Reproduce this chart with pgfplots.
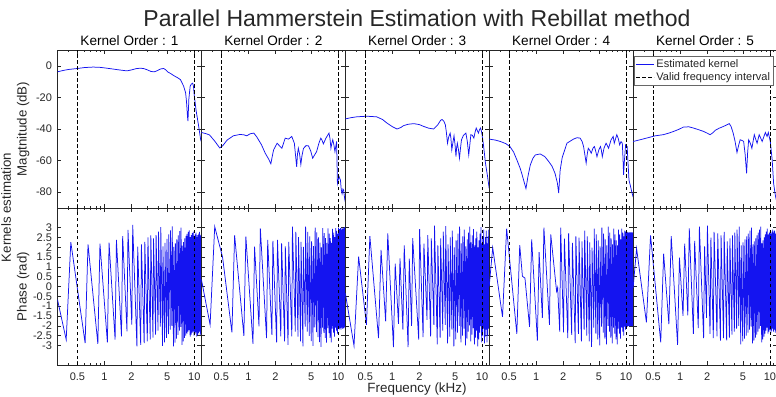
\documentclass[border=0pt]{standalone}
\usepackage{pgfplots}
\pgfplotsset{compat=1.18}
\usepackage{pgfplotstable}
\usepackage{fontspec}
\setmainfont{Liberation Sans}

\definecolor{axisgray}{gray}{0.15}
\definecolor{kernblue}{RGB}{20,20,240}

% ---------- magnitude of the estimated kernels (kHz, dB) ----------
\pgfplotstableread[row sep=\\]{
f m\\
0.30 -3.8\\ 0.35 -2.9\\ 0.40 -2.3\\ 0.50 -1.7\\ 0.60 -1.1\\ 0.75 -0.8\\ 0.90 -1.0\\
1.06 -1.5\\ 1.30 -2.2\\ 1.55 -2.8\\ 1.78 -3.2\\ 2.00 -2.6\\ 2.25 -1.8\\ 2.51 -1.5\\
2.75 -1.8\\ 2.98 -2.5\\ 3.30 -3.6\\ 3.59 -3.8\\ 3.90 -3.0\\ 4.20 -2.0\\ 4.56 -1.7\\
4.80 -2.5\\ 5.10 -4.0\\ 5.50 -5.0\\ 5.90 -6.2\\ 6.50 -7.5\\ 7.00 -8.7\\ 7.60 -12.8\\
8.00 -17\\ 8.20 -23\\ 8.40 -32\\ 8.50 -35\\ 8.60 -28\\ 8.70 -21\\ 9.00 -12.8\\
9.30 -11.5\\ 9.60 -11.0\\ 9.80 -13\\ 10.0 -19\\ 10.5 -28.7\\ 11.1 -37\\ 11.8 -47\\ 12.0 -48\\
}\magA
\pgfplotstableread[row sep=\\]{
f m\\
0.30 -42.2\\ 0.34 -43.0\\ 0.37 -43.8\\ 0.42 -47.5\\ 0.48 -52.0\\ 0.52 -50.5\\ 0.58 -47.0\\
0.68 -44.3\\ 0.80 -43.5\\ 0.88 -43.6\\ 0.96 -44.3\\ 1.05 -43.0\\ 1.15 -42.6\\ 1.24 -45.0\\
1.40 -50.0\\ 1.54 -55.3\\ 1.68 -59.0\\ 1.78 -62.0\\ 1.85 -57.0\\ 1.91 -53.2\\ 2.09 -49.0\\
2.25 -51.0\\ 2.36 -52.2\\ 2.57 -45.8\\ 2.80 -46.4\\ 3.04 -44.7\\ 3.25 -49.0\\ 3.45 -64.0\\
3.52 -56.0\\ 3.60 -52.2\\ 3.72 -56.0\\ 3.84 -62.5\\ 3.95 -57.0\\ 4.11 -52.2\\ 4.40 -50.5\\
4.67 -50.7\\ 4.95 -54.0\\ 5.20 -58.5\\ 5.45 -56.5\\ 5.75 -54.3\\ 6.10 -49.0\\ 6.40 -45.8\\
6.60 -47.0\\ 6.84 -49.4\\ 7.30 -45.8\\ 7.90 -42.6\\ 8.10 -46.0\\ 8.30 -52.2\\ 8.50 -49.0\\
8.70 -46.8\\ 8.95 -50.0\\ 9.20 -54.3\\ 9.40 -51.0\\ 9.60 -47.9\\ 9.70 -60.0\\ 9.80 -74.5\\
10.2 -70.0\\ 10.6 -72.4\\ 10.8 -78.0\\ 11.05 -81.0\\ 11.3 -78.0\\ 11.5 -78.8\\ 11.8 -84.0\\ 12.0 -86.3\\
}\magB
\pgfplotstableread[row sep=\\]{
f m\\
0.30 -33.6\\ 0.35 -32.8\\ 0.40 -32.3\\ 0.52 -31.9\\ 0.67 -32.3\\ 0.78 -34.0\\ 0.87 -36.2\\
1.00 -38.5\\ 1.13 -40.0\\ 1.25 -39.0\\ 1.33 -37.9\\ 1.50 -37.0\\ 1.74 -36.6\\ 2.00 -37.2\\
2.22 -38.3\\ 2.55 -39.5\\ 2.89 -40.0\\ 3.20 -37.5\\ 3.45 -34.5\\ 3.58 -34.0\\ 3.75 -35.0\\
3.90 -37.4\\ 4.00 -42\\ 4.12 -49\\ 4.25 -45\\ 4.41 -42.6\\ 4.50 -46\\ 4.60 -53.2\\ 4.75 -48\\
4.87 -44.3\\ 5.00 -50\\ 5.12 -57.5\\ 5.20 -52\\ 5.30 -49\\ 5.45 -53\\ 5.60 -58.5\\ 5.75 -52\\
5.90 -46.8\\ 6.20 -44\\ 6.60 -42.6\\ 6.85 -48\\ 7.10 -56.4\\ 7.30 -50\\ 7.50 -43.6\\ 7.80 -44\\
8.10 -45.8\\ 8.35 -42\\ 8.60 -39.4\\ 8.85 -41\\ 9.10 -42.6\\ 9.35 -40.5\\ 9.60 -39.4\\
9.80 -41\\ 10.0 -43.6\\ 10.4 -51\\ 10.9 -61.6\\ 11.5 -70\\ 12.0 -77.7\\
}\magC
\pgfplotstableread[row sep=\\]{
f m\\
0.30 -46.4\\ 0.35 -47.0\\ 0.40 -47.9\\ 0.46 -49.3\\ 0.51 -51.1\\ 0.56 -54.5\\ 0.61 -59.6\\
0.66 -64.5\\ 0.69 -68\\ 0.73 -73\\ 0.77 -77.7\\ 0.81 -70\\ 0.86 -62.8\\ 0.92 -58.5\\
0.98 -56.4\\ 1.11 -55.8\\ 1.25 -57.5\\ 1.38 -60.6\\ 1.50 -63.5\\ 1.62 -68\\ 1.72 -74\\
1.78 -80.5\\ 1.85 -66\\ 1.95 -58\\ 2.20 -49\\ 2.60 -46.4\\ 2.85 -45.5\\ 3.09 -45.8\\
3.25 -48\\ 3.37 -51.1\\ 3.50 -57\\ 3.60 -61.6\\ 3.70 -56\\ 3.80 -52.2\\ 3.95 -53.5\\
4.10 -55.3\\ 4.30 -52\\ 4.45 -51.1\\ 4.60 -54\\ 4.75 -57.5\\ 5.00 -53\\ 5.20 -51.1\\
5.30 -53\\ 5.45 -57.5\\ 5.70 -52\\ 6.00 -49\\ 6.20 -50.5\\ 6.40 -52.2\\ 6.80 -47\\
7.20 -44.7\\ 7.40 -49\\ 7.90 -43.6\\ 8.20 -46\\ 8.50 -50\\ 8.80 -48\\ 9.10 -49\\
9.25 -58\\ 9.40 -69\\ 9.60 -60\\ 9.90 -50\\ 10.3 -51.1\\ 10.5 -60\\ 10.8 -72.4\\
11.2 -76\\ 11.6 -79.9\\ 12.0 -83\\
}\magD
\pgfplotstableread[row sep=\\]{
f m\\
0.30 -47.9\\ 0.36 -46.8\\ 0.42 -45.8\\ 0.53 -44.3\\ 0.65 -43.6\\ 0.75 -42.6\\ 0.85 -41.5\\
0.97 -40.2\\ 1.09 -38.8\\ 1.25 -38.6\\ 1.41 -39.4\\ 1.60 -40.4\\ 1.82 -41.5\\ 2.00 -42.6\\
2.16 -43.6\\ 2.30 -42.5\\ 2.47 -40.8\\ 2.70 -39.6\\ 2.92 -38.8\\ 3.20 -37.8\\ 3.53 -36.6\\
3.70 -38.5\\ 3.90 -42.6\\ 4.10 -48\\ 4.30 -54.9\\ 4.50 -50\\ 4.67 -46.8\\ 5.00 -47.5\\
5.10 -47.9\\ 5.30 -56\\ 5.50 -68\\ 5.65 -55\\ 5.80 -46.8\\ 6.05 -49\\ 6.30 -52.2\\
6.70 -43.6\\ 7.00 -47\\ 7.20 -49\\ 7.60 -43.6\\ 8.20 -47.9\\ 8.90 -42.2\\ 9.30 -44.7\\
9.60 -42.2\\ 10.1 -47.9\\ 10.6 -59.6\\ 11.0 -74.5\\ 11.5 -82\\ 12.0 -87\\
}\magE

% ---------- wrapped phase of the estimated kernels (kHz, rad) ----------
\pgfplotstableread[row sep=\\]{
f p\\
0.300 -0.67\\ 0.375 -2.71\\ 0.422 2.26\\ 0.609 -2.88\\ 0.656 2.15\\ 0.844 -2.92\\ 0.891 2.18\\
1.078 -2.85\\ 1.125 2.23\\ 1.313 -2.71\\ 1.359 2.37\\ 1.547 -2.54\\ 1.594 2.57\\ 1.781 -2.28\\
1.828 2.88\\ 2.016 -1.94\\ 2.063 3.14\\ 2.297 -3.05\\ 2.344 2.03\\ 2.531 -2.97\\ 2.578 2.15\\
2.766 -2.88\\ 2.813 2.28\\ 3.000 -2.80\\ 3.047 2.50\\ 3.234 -2.70\\ 3.281 2.60\\
3.470 -2.60\\ 3.517 2.45\\ 3.710 -2.45\\ 3.757 2.62\\ 3.950 -2.25\\ 3.997 2.80\\
4.190 -2.05\\ 4.237 3.02\\ 4.430 -3.02\\ 4.477 2.05\\ 4.670 -2.85\\ 4.717 2.22\\
4.910 -2.62\\ 4.957 2.43\\ 5.150 -2.42\\ 5.197 2.65\\ 5.390 -2.20\\ 5.437 2.86\\
5.630 -2.00\\ 5.677 3.06\\ 5.870 -3.05\\ 5.917 2.02\\ 6.110 -2.86\\ 6.157 2.20\\
6.350 -2.66\\ 6.397 2.40\\ 6.590 -2.46\\ 6.637 2.60\\ 6.830 -2.25\\ 6.877 2.82\\
7.070 -2.06\\ 7.117 3.00\\ 7.310 -2.98\\ 7.357 2.08\\ 7.550 -2.80\\ 7.597 2.26\\
7.790 -2.62\\ 7.837 2.45\\ 8.030 -2.50\\ 8.077 2.58\\ 8.270 -2.40\\ 8.317 2.68\\
8.510 -2.30\\ 8.557 2.78\\ 8.750 -2.22\\ 8.797 2.86\\ 8.990 -2.55\\ 9.037 2.52\\
9.230 -2.45\\ 9.277 2.62\\ 9.470 -2.35\\ 9.517 2.72\\ 9.710 -2.28\\ 9.757 2.80\\
9.950 -2.50\\ 9.997 2.58\\ 10.190 -2.42\\ 10.237 2.66\\ 10.430 -2.34\\ 10.477 2.74\\
10.670 -2.55\\ 10.717 2.52\\ 10.910 -2.46\\ 10.957 2.62\\ 11.150 -2.38\\ 11.197 2.70\\
11.390 -2.30\\ 11.437 2.78\\ 11.630 -2.48\\ 11.677 2.60\\ 11.870 -2.40\\ 11.917 2.68\\
12.000 0.50\\
}\phA
\pgfplotstableread[row sep=\\]{
f p\\
0.300 0.36\\ 0.375 -1.95\\ 0.422 3.05\\ 0.469 2.23\\ 0.516 1.50\\ 0.656 -2.34\\ 0.703 2.61\\
0.891 -2.51\\ 0.938 2.54\\ 1.125 -2.92\\ 1.172 2.03\\ 1.313 -2.03\\ 1.359 2.96\\ 1.594 -2.63\\
1.641 2.37\\ 1.828 -2.46\\ 1.875 2.32\\ 2.063 -2.85\\ 2.109 2.37\\ 2.297 -2.54\\ 2.344 2.20\\
2.531 -2.80\\ 2.578 2.05\\ 2.766 -2.97\\ 2.813 2.27\\ 3.047 -2.54\\ 3.094 3.05\\
3.330 -2.30\\ 3.377 2.78\\ 3.570 -2.55\\ 3.617 2.52\\ 3.810 -2.80\\ 3.857 2.28\\
4.050 -3.05\\ 4.097 2.02\\ 4.290 -2.05\\ 4.337 3.05\\ 4.530 -2.30\\ 4.577 2.78\\
4.770 -2.52\\ 4.817 2.55\\ 5.010 -2.78\\ 5.057 2.30\\ 5.250 -3.02\\ 5.297 2.06\\
5.490 -2.08\\ 5.537 3.00\\ 5.730 -2.32\\ 5.777 2.76\\ 5.970 -2.58\\ 6.017 2.50\\
6.210 -2.84\\ 6.257 2.24\\ 6.450 -3.08\\ 6.497 2.00\\ 6.690 -2.10\\ 6.737 2.98\\
6.930 -2.36\\ 6.977 2.72\\ 7.170 -2.62\\ 7.217 2.46\\ 7.410 -2.86\\ 7.457 2.22\\
7.650 -2.12\\ 7.697 2.96\\ 7.890 -2.38\\ 7.937 2.70\\ 8.130 -2.62\\ 8.177 2.46\\
8.370 -2.85\\ 8.417 2.22\\ 8.610 -2.15\\ 8.657 2.94\\ 8.850 -2.35\\ 8.897 2.74\\
9.090 -2.55\\ 9.137 2.52\\ 9.330 -2.10\\ 9.377 2.98\\ 9.570 -2.25\\ 9.617 2.84\\
9.810 -2.40\\ 9.857 2.68\\ 10.050 -2.10\\ 10.097 3.00\\ 10.290 -2.18\\ 10.337 2.92\\
10.530 -2.12\\ 10.577 2.98\\ 10.770 -2.20\\ 10.817 2.90\\ 11.010 -2.10\\ 11.057 3.00\\
11.250 -2.16\\ 11.297 2.94\\ 11.490 -2.12\\ 11.537 2.98\\ 11.730 -2.08\\ 11.777 3.02\\
11.970 -2.14\\
}\phB
\pgfplotstableread[row sep=\\]{
f p\\
0.300 -0.33\\ 0.375 -3.02\\ 0.422 1.52\\ 0.516 -1.95\\ 0.563 2.57\\ 0.703 -2.63\\ 0.750 1.86\\
0.844 -1.78\\ 0.891 2.71\\ 1.031 -3.09\\ 1.078 1.17\\ 1.172 -1.90\\ 1.219 1.43\\ 1.313 -2.20\\
1.359 2.10\\ 1.500 -3.09\\ 1.547 1.42\\ 1.641 -2.00\\ 1.688 2.46\\ 1.969 -2.70\\ 2.016 2.92\\
2.203 -2.58\\ 2.250 2.18\\ 2.438 -1.70\\ 2.484 2.62\\ 2.672 -2.54\\ 2.719 2.45\\ 2.906 -1.95\\
2.953 3.10\\
3.170 -2.95\\ 3.217 2.10\\ 3.410 -2.60\\ 3.457 2.45\\ 3.650 -2.25\\ 3.697 2.80\\
3.890 -1.95\\ 3.937 3.08\\ 4.130 -2.90\\ 4.177 2.15\\ 4.370 -2.55\\ 4.417 2.50\\
4.610 -2.20\\ 4.657 2.85\\ 4.850 -3.05\\ 4.897 2.00\\ 5.090 -2.70\\ 5.137 2.35\\
5.330 -2.35\\ 5.377 2.70\\ 5.570 -2.00\\ 5.617 3.05\\ 5.810 -2.85\\ 5.857 2.20\\
6.050 -2.50\\ 6.097 2.55\\ 6.290 -2.15\\ 6.337 2.90\\ 6.530 -3.00\\ 6.577 2.05\\
6.770 -2.65\\ 6.817 2.40\\ 7.010 -2.30\\ 7.057 2.75\\ 7.250 -1.98\\ 7.297 3.05\\
7.490 -2.80\\ 7.537 2.25\\ 7.730 -2.45\\ 7.777 2.60\\ 7.970 -2.12\\ 8.017 2.92\\
8.210 -2.95\\ 8.257 2.10\\ 8.450 -2.60\\ 8.497 2.45\\ 8.690 -2.25\\ 8.737 2.80\\
8.930 -3.05\\ 8.977 2.00\\ 9.170 -2.70\\ 9.217 2.35\\ 9.410 -2.35\\ 9.457 2.70\\
9.650 -2.02\\ 9.697 3.02\\ 9.890 -2.85\\ 9.937 2.20\\ 10.130 -2.50\\ 10.177 2.55\\
10.370 -2.15\\ 10.417 2.90\\ 10.610 -2.90\\ 10.657 2.15\\ 10.850 -2.55\\ 10.897 2.50\\
11.090 -2.20\\ 11.137 2.85\\ 11.330 -2.85\\ 11.377 2.20\\ 11.570 -2.50\\ 11.617 2.55\\
11.810 -2.15\\ 11.857 2.90\\ 12.000 0.95\\
}\phC
\pgfplotstableread[row sep=\\]{
f p\\
0.300 0.01\\ 0.328 1.98\\ 0.422 -1.55\\ 0.469 2.95\\ 0.609 -2.41\\ 0.656 2.11\\ 0.703 0.52\\
0.750 0.43\\ 0.844 -2.06\\ 0.891 2.40\\ 1.031 -2.76\\ 1.078 1.75\\ 1.172 -1.60\\ 1.219 3.00\\
1.406 -1.95\\ 1.453 2.66\\ 1.688 -0.25\\ 1.734 -0.05\\ 1.828 -2.30\\ 1.875 3.00\\ 2.016 -2.34\\
2.063 2.44\\ 2.250 -2.63\\ 2.297 2.71\\ 2.484 -2.46\\ 2.531 2.22\\ 2.719 -2.88\\ 2.766 2.55\\
2.953 -2.41\\ 3.000 2.49\\ 3.188 -2.80\\ 3.234 2.30\\
3.420 -2.20\\ 3.467 2.85\\ 3.660 -2.50\\ 3.707 2.55\\ 3.900 -2.80\\ 3.947 2.25\\
4.140 -3.08\\ 4.187 1.98\\ 4.380 -2.10\\ 4.427 2.95\\ 4.620 -2.40\\ 4.667 2.65\\
4.860 -2.70\\ 4.907 2.35\\ 5.100 -3.00\\ 5.147 2.05\\ 5.340 -2.05\\ 5.387 3.00\\
5.580 -2.35\\ 5.627 2.70\\ 5.820 -2.65\\ 5.867 2.40\\ 6.060 -2.95\\ 6.107 2.10\\
6.300 -2.00\\ 6.347 3.05\\ 6.540 -2.30\\ 6.587 2.75\\ 6.780 -2.60\\ 6.827 2.45\\
7.020 -2.90\\ 7.067 2.15\\ 7.260 -2.10\\ 7.307 2.95\\ 7.500 -2.40\\ 7.547 2.65\\
7.740 -2.70\\ 7.787 2.35\\ 7.980 -2.95\\ 8.027 2.10\\ 8.220 -2.15\\ 8.267 2.90\\
8.460 -2.40\\ 8.507 2.65\\ 8.700 -2.65\\ 8.747 2.40\\ 8.940 -2.10\\ 8.987 2.95\\
9.180 -2.30\\ 9.227 2.75\\ 9.420 -2.50\\ 9.467 2.55\\ 9.660 -2.05\\ 9.707 2.85\\
9.900 -2.20\\ 9.947 2.80\\ 10.140 -2.00\\ 10.187 2.75\\ 10.380 -2.05\\ 10.427 2.78\\
10.620 -2.00\\ 10.667 2.74\\ 10.860 -2.04\\ 10.907 2.76\\ 11.100 -2.00\\ 11.147 2.75\\
11.340 -2.03\\ 11.387 2.77\\ 11.580 -2.00\\ 11.627 2.74\\ 11.820 -2.02\\ 11.867 2.76\\
12.000 -0.50\\
}\phD
\pgfplotstableread[row sep=\\]{
f p\\
0.300 -0.07\\ 0.328 1.93\\ 0.422 -1.83\\ 0.469 2.61\\ 0.609 -2.85\\ 0.656 1.67\\ 0.750 -1.91\\
0.797 2.57\\ 0.938 -2.97\\ 0.984 1.47\\ 1.078 -1.50\\ 1.125 2.18\\ 1.219 -1.47\\ 1.266 2.96\\
1.406 -2.41\\ 1.453 2.32\\ 1.594 -2.12\\ 1.641 3.05\\ 1.828 -2.63\\ 1.875 2.05\\ 1.969 -1.60\\
2.016 3.10\\ 2.156 -2.41\\ 2.203 2.49\\ 2.344 -2.63\\ 2.391 2.78\\ 2.578 -2.54\\ 2.625 2.71\\
2.813 -2.76\\ 2.859 2.61\\ 3.047 -2.63\\ 3.094 2.78\\
3.300 -2.75\\ 3.347 2.30\\ 3.540 -2.60\\ 3.587 2.45\\ 3.780 -2.45\\ 3.827 2.60\\
4.020 -2.30\\ 4.067 2.75\\ 4.260 -2.15\\ 4.307 2.90\\ 4.500 -2.00\\ 4.547 3.05\\
4.740 -2.95\\ 4.787 2.10\\ 4.980 -2.80\\ 5.027 2.25\\ 5.220 -2.65\\ 5.267 2.40\\
5.460 -2.50\\ 5.507 2.55\\ 5.700 -2.35\\ 5.747 2.70\\ 5.940 -2.20\\ 5.987 2.85\\
6.180 -2.05\\ 6.227 3.00\\ 6.420 -2.90\\ 6.467 2.15\\ 6.660 -2.75\\ 6.707 2.30\\
6.900 -2.60\\ 6.947 2.45\\ 7.140 -2.45\\ 7.187 2.60\\ 7.380 -2.30\\ 7.427 2.75\\
7.620 -2.15\\ 7.667 2.90\\ 7.860 -2.00\\ 7.907 3.05\\ 8.100 -2.85\\ 8.147 2.20\\
8.340 -2.70\\ 8.387 2.35\\ 8.580 -2.55\\ 8.627 2.50\\ 8.820 -2.40\\ 8.867 2.65\\
9.060 -2.25\\ 9.107 2.80\\ 9.300 -2.10\\ 9.347 2.95\\ 9.540 -2.40\\ 9.587 2.65\\
9.780 -2.30\\ 9.827 2.75\\ 10.020 -2.20\\ 10.067 2.85\\ 10.260 -2.35\\ 10.307 2.70\\
10.500 -2.25\\ 10.547 2.80\\ 10.740 -2.15\\ 10.787 2.90\\ 10.980 -2.30\\ 11.027 2.75\\
11.220 -2.20\\ 11.267 2.85\\ 11.460 -2.35\\ 11.507 2.70\\ 11.700 -2.25\\ 11.747 2.80\\
11.940 -2.30\\ 11.987 2.75\\
}\phE

% shared look of every panel (the log x axis comes from semilogxaxis)
\pgfplotsset{
  hkpanel/.style={
    scale only axis, width=143.9bp, xmin=0.3, xmax=12,
    xtick={0.5,1,2,5,10},
    minor xtick={0.3,0.4,0.6,0.7,0.8,0.9,3,4,6,7,8,9,11,12},
    tick align=inside, major tick length=4bp, minor tick length=2.2bp,
    axis line style={axisgray, line width=0.8bp},
    every tick/.append style={axisgray, line width=0.5bp},
    tick label style={font=\fontsize{11bp}{13bp}\selectfont, text=axisgray},
    yticklabel style={xshift=-2bp},
    xticklabel style={yshift=-4bp},
  },
  hkmag/.style={hkpanel, height=158bp, ymin=-90, ymax=10,
    ytick={-80,-60,-40,-20,0}, xticklabels={}},
  hkpha/.style={hkpanel, height=157bp, ymin=-4, ymax=4,
    ytick={-3,-2.5,-2,-1.5,-1,-0.5,0,0.5,1,1.5,2,2.5,3},
    xticklabels={0.5,1,2,5,10}},
}
\tikzset{
  hkkern/.style={draw=kernblue, line width=0.75bp},
  hkvalid/.style={draw=black, line width=0.6bp, dash pattern=on 3.5bp off 2.5bp},
}

\begin{document}
\begin{tikzpicture}[x=1bp,y=1bp]

% magnitude row
\begin{semilogxaxis}[hkmag, at={(57.5bp,188bp)}, anchor=south west, yticklabels={-80,-60,-40,-20,0}]
  \addplot[hkkern, mark=none] table[x=f,y=m] {\magA};
  \addplot[hkvalid, mark=none] coordinates {(0.5,-90) (0.5,10)};
  \addplot[hkvalid, mark=none] coordinates {(10,-90) (10,10)};
\end{semilogxaxis}
\begin{semilogxaxis}[hkmag, at={(201.4bp,188bp)}, anchor=south west, yticklabels={}]
  \addplot[hkkern, mark=none] table[x=f,y=m] {\magB};
  \addplot[hkvalid, mark=none] coordinates {(0.5,-90) (0.5,10)};
  \addplot[hkvalid, mark=none] coordinates {(10,-90) (10,10)};
\end{semilogxaxis}
\begin{semilogxaxis}[hkmag, at={(345.3bp,188bp)}, anchor=south west, yticklabels={}]
  \addplot[hkkern, mark=none] table[x=f,y=m] {\magC};
  \addplot[hkvalid, mark=none] coordinates {(0.5,-90) (0.5,10)};
  \addplot[hkvalid, mark=none] coordinates {(10,-90) (10,10)};
\end{semilogxaxis}
\begin{semilogxaxis}[hkmag, at={(489.2bp,188bp)}, anchor=south west, yticklabels={}]
  \addplot[hkkern, mark=none] table[x=f,y=m] {\magD};
  \addplot[hkvalid, mark=none] coordinates {(0.5,-90) (0.5,10)};
  \addplot[hkvalid, mark=none] coordinates {(10,-90) (10,10)};
\end{semilogxaxis}
\begin{semilogxaxis}[hkmag, at={(633.1bp,188bp)}, anchor=south west, yticklabels={},
    legend style={at={(rel axis cs:0.006,0.962)}, anchor=north west,
      draw=axisgray!70, line width=0.5bp, fill=white,
      font=\fontsize{11bp}{13bp}\selectfont, text=axisgray,
      inner xsep=1.5bp, inner ysep=1bp},
    legend cell align=left,
    legend image code/.code={\draw[#1] (0bp,0bp) -- (18bp,0bp);}]
  \addplot[hkkern, mark=none] table[x=f,y=m] {\magE};
  \addlegendentry{Estimated kernel}
  \addplot[hkvalid, mark=none] coordinates {(0.5,-90) (0.5,10)};
  \addlegendentry{Valid frequency interval}
  \addplot[hkvalid, mark=none, forget plot] coordinates {(10,-90) (10,10)};
\end{semilogxaxis}

% phase row
\begin{semilogxaxis}[hkpha, at={(57.5bp,31bp)}, anchor=south west,
    yticklabels={-3,-2.5,-2,-1.5,-1,-0.5,0,0.5,1,1.5,2,2.5,3}]
  \addplot[hkkern, mark=none] table[x=f,y=p] {\phA};
  \addplot[hkvalid, mark=none] coordinates {(0.5,-4) (0.5,4)};
  \addplot[hkvalid, mark=none] coordinates {(10,-4) (10,4)};
\end{semilogxaxis}
\begin{semilogxaxis}[hkpha, at={(201.4bp,31bp)}, anchor=south west, yticklabels={}]
  \addplot[hkkern, mark=none] table[x=f,y=p] {\phB};
  \addplot[hkvalid, mark=none] coordinates {(0.5,-4) (0.5,4)};
  \addplot[hkvalid, mark=none] coordinates {(10,-4) (10,4)};
\end{semilogxaxis}
\begin{semilogxaxis}[hkpha, at={(345.3bp,31bp)}, anchor=south west, yticklabels={}]
  \addplot[hkkern, mark=none] table[x=f,y=p] {\phC};
  \addplot[hkvalid, mark=none] coordinates {(0.5,-4) (0.5,4)};
  \addplot[hkvalid, mark=none] coordinates {(10,-4) (10,4)};
\end{semilogxaxis}
\begin{semilogxaxis}[hkpha, at={(489.2bp,31bp)}, anchor=south west, yticklabels={}]
  \addplot[hkkern, mark=none] table[x=f,y=p] {\phD};
  \addplot[hkvalid, mark=none] coordinates {(0.5,-4) (0.5,4)};
  \addplot[hkvalid, mark=none] coordinates {(10,-4) (10,4)};
\end{semilogxaxis}
\begin{semilogxaxis}[hkpha, at={(633.1bp,31bp)}, anchor=south west, yticklabels={}]
  \addplot[hkkern, mark=none] table[x=f,y=p] {\phE};
  \addplot[hkvalid, mark=none] coordinates {(0.5,-4) (0.5,4)};
  \addplot[hkvalid, mark=none] coordinates {(10,-4) (10,4)};
\end{semilogxaxis}

% titles and labels
\node[anchor=base, text=axisgray, font=\fontsize{23bp}{26bp}\selectfont]
  at (417,370) {Parallel Hammerstein Estimation with Rebillat method};
\foreach \k/\cx in {1/129.45, 2/273.35, 3/417.25, 4/561.15, 5/705.05}
  \node[anchor=base, text=black, font=\fontsize{13.6bp}{15bp}\selectfont]
    at (\cx,351) {Kernel Order : \k};
\node[anchor=base, rotate=90, text=axisgray, font=\fontsize{13.3bp}{15bp}\selectfont]
  at (26.5,267) {Magtnitude (dB)};
\node[anchor=base, rotate=90, text=axisgray, font=\fontsize{13.3bp}{15bp}\selectfont]
  at (26.5,109.5) {Phase (rad)};
\node[anchor=base, rotate=90, text=axisgray, font=\fontsize{13.3bp}{15bp}\selectfont]
  at (10.8,188.5) {Kernels estimation};
\node[anchor=base, text=axisgray, font=\fontsize{13.4bp}{15bp}\selectfont]
  at (417,3.6) {Frequency (kHz)};

\pgfresetboundingbox
\path[use as bounding box] (0,0) rectangle (776,396);
\end{tikzpicture}
\end{document}
